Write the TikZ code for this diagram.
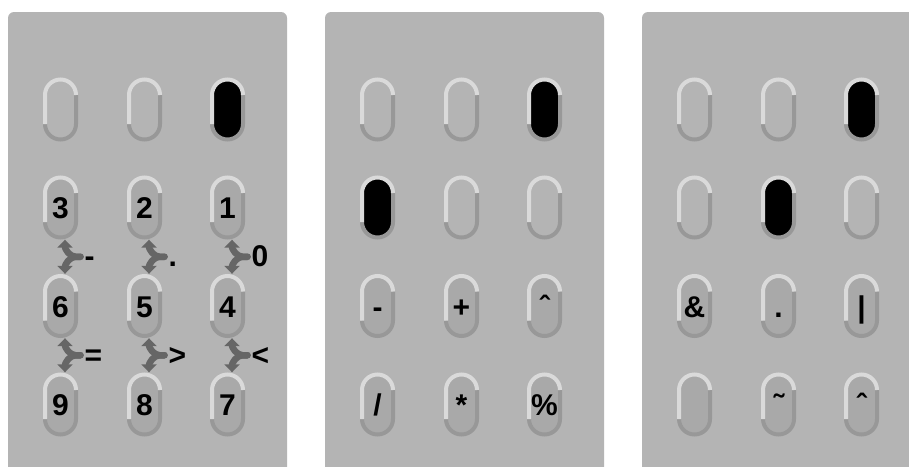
\documentclass[tikz,border=0pt]{standalone}
\usepackage{fontspec}
\setmainfont{Liberation Sans}
\usetikzlibrary{arrows.meta,calc}
\definecolor{panelbg}{RGB}{180,180,180}
\definecolor{pilllight}{RGB}{218,218,218}
\definecolor{pilldark}{RGB}{152,152,152}
\definecolor{keyfill}{RGB}{169,169,169}
\definecolor{connc}{RGB}{102,102,102}
\tikzset{
  pillbox/.style={inner sep=0pt, minimum width=35pt, minimum height=64pt},
  keylabel/.style={font=\fontsize{30}{34}\selectfont\bfseries, inner sep=0pt, anchor=base},
  conn/.style={draw=connc, line width=6.5pt, line cap=round, -{Triangle[width=15pt,length=8pt]}},
  panel/.style={fill=panelbg, rounded corners=6pt},
  rimlight/.style={draw=pilllight, line width=4pt},
  rimdark/.style={draw=pilldark, line width=4pt},
}
% name, x, y, fill colour
\newcommand\drawpill[4]{%
  \node[pillbox] (#1) at (#2,#3) {};
  \fill[#4] (#2-15.5,#3-14.5) -- (#2-15.5,#3+14.5) arc[start angle=180,end angle=0,radius=15.5pt]
     -- (#2+15.5,#3-14.5) arc[start angle=0,end angle=-180,radius=15.5pt] -- cycle;
  \draw[rimdark] (#2+15.5,#3+14.5) -- (#2+15.5,#3-14.5) arc[start angle=0,end angle=-180,radius=15.5pt];
  \draw[rimlight] (#2-15.5,#3-14.5) -- (#2-15.5,#3+14.5) arc[start angle=180,end angle=0,radius=15.5pt];
}
% name of pill, text
\newcommand\pilltext[2]{\node[keylabel] (#1t) at ([yshift=-11pt]#1.center) {#2};}
% junction name, column x, y, upper pill, lower pill, label
\newcommand\splitconn[6]{%
  \coordinate (#1) at (#2+20,#3);
  \draw[conn] (#1) -- ++(-5,0) .. controls +(-6,0) and +(0,-9) .. ([xshift=4.5pt]#4.south);
  \draw[conn] (#1) -- ++(-5,0) .. controls +(-6,0) and +(0,9) .. ([xshift=4.5pt]#5.north);
  \node[keylabel, anchor=base west] (#1l) at ([xshift=4pt,yshift=-10pt]#1) {#6};
}
\begin{document}
\begin{tikzpicture}[x=1pt,y=1pt]
\useasboundingbox (0,0) rectangle (909,-466);
\fill[white] (0,0) rectangle (909,-466);
\clip (0,0) rectangle (909,-466);
% panels
\fill[panel] (8,-12) rectangle (287,-490);
\fill[panel] (325,-12) rectangle (604,-490);
\fill[panel] (642,-12) rectangle (921,-490);

% ---------- panel 1 ----------
\drawpill{a11}{60.5}{-109.5}{panelbg}
\drawpill{a12}{144.5}{-109.5}{panelbg}
\drawpill{a13}{227.5}{-109.5}{black}
\drawpill{a21}{60.5}{-207.5}{keyfill}
\drawpill{a22}{144.5}{-207.5}{keyfill}
\drawpill{a23}{227.5}{-207.5}{keyfill}
\drawpill{a31}{60.5}{-306}{keyfill}
\drawpill{a32}{144.5}{-306}{keyfill}
\drawpill{a33}{227.5}{-306}{keyfill}
\drawpill{a41}{60.5}{-404.5}{keyfill}
\drawpill{a42}{144.5}{-404.5}{keyfill}
\drawpill{a43}{227.5}{-404.5}{keyfill}
\pilltext{a21}{3}\pilltext{a22}{2}\pilltext{a23}{1}
\pilltext{a31}{6}\pilltext{a32}{5}\pilltext{a33}{4}
\pilltext{a41}{9}\pilltext{a42}{8}\pilltext{a43}{7}
\splitconn{ja1}{60.5}{-256.75}{a21}{a31}{-}
\splitconn{ja2}{144.5}{-256.75}{a22}{a32}{.}
\splitconn{ja3}{227.5}{-256.75}{a23}{a33}{0}
\splitconn{jb1}{60.5}{-355.25}{a31}{a41}{=}
\splitconn{jb2}{144.5}{-355.25}{a32}{a42}{>}
\splitconn{jb3}{227.5}{-355.25}{a33}{a43}{<}

% ---------- panel 2 ----------
\drawpill{b11}{377.5}{-109.5}{panelbg}
\drawpill{b12}{461.5}{-109.5}{panelbg}
\drawpill{b13}{544.5}{-109.5}{black}
\drawpill{b21}{377.5}{-207.5}{black}
\drawpill{b22}{461.5}{-207.5}{panelbg}
\drawpill{b23}{544.5}{-207.5}{panelbg}
\drawpill{b31}{377.5}{-306}{keyfill}
\drawpill{b32}{461.5}{-306}{keyfill}
\drawpill{b33}{544.5}{-306}{keyfill}
\drawpill{b41}{377.5}{-404.5}{keyfill}
\drawpill{b42}{461.5}{-404.5}{keyfill}
\drawpill{b43}{544.5}{-404.5}{keyfill}
\pilltext{b31}{-}\pilltext{b32}{+}\pilltext{b33}{ˆ}
\pilltext{b41}{/}\pilltext{b42}{*}\pilltext{b43}{\%}

% ---------- panel 3 ----------
\drawpill{c11}{694.5}{-109.5}{panelbg}
\drawpill{c12}{778.5}{-109.5}{panelbg}
\drawpill{c13}{861.5}{-109.5}{black}
\drawpill{c21}{694.5}{-207.5}{panelbg}
\drawpill{c22}{778.5}{-207.5}{black}
\drawpill{c23}{861.5}{-207.5}{panelbg}
\drawpill{c31}{694.5}{-306}{keyfill}
\drawpill{c32}{778.5}{-306}{keyfill}
\drawpill{c33}{861.5}{-306}{keyfill}
\drawpill{c41}{694.5}{-404.5}{keyfill}
\drawpill{c42}{778.5}{-404.5}{keyfill}
\drawpill{c43}{861.5}{-404.5}{keyfill}
\pilltext{c31}{\&}\pilltext{c32}{.}\pilltext{c33}{\textbar}
\pilltext{c42}{˜}\pilltext{c43}{ˆ}
\end{tikzpicture}
\end{document}
